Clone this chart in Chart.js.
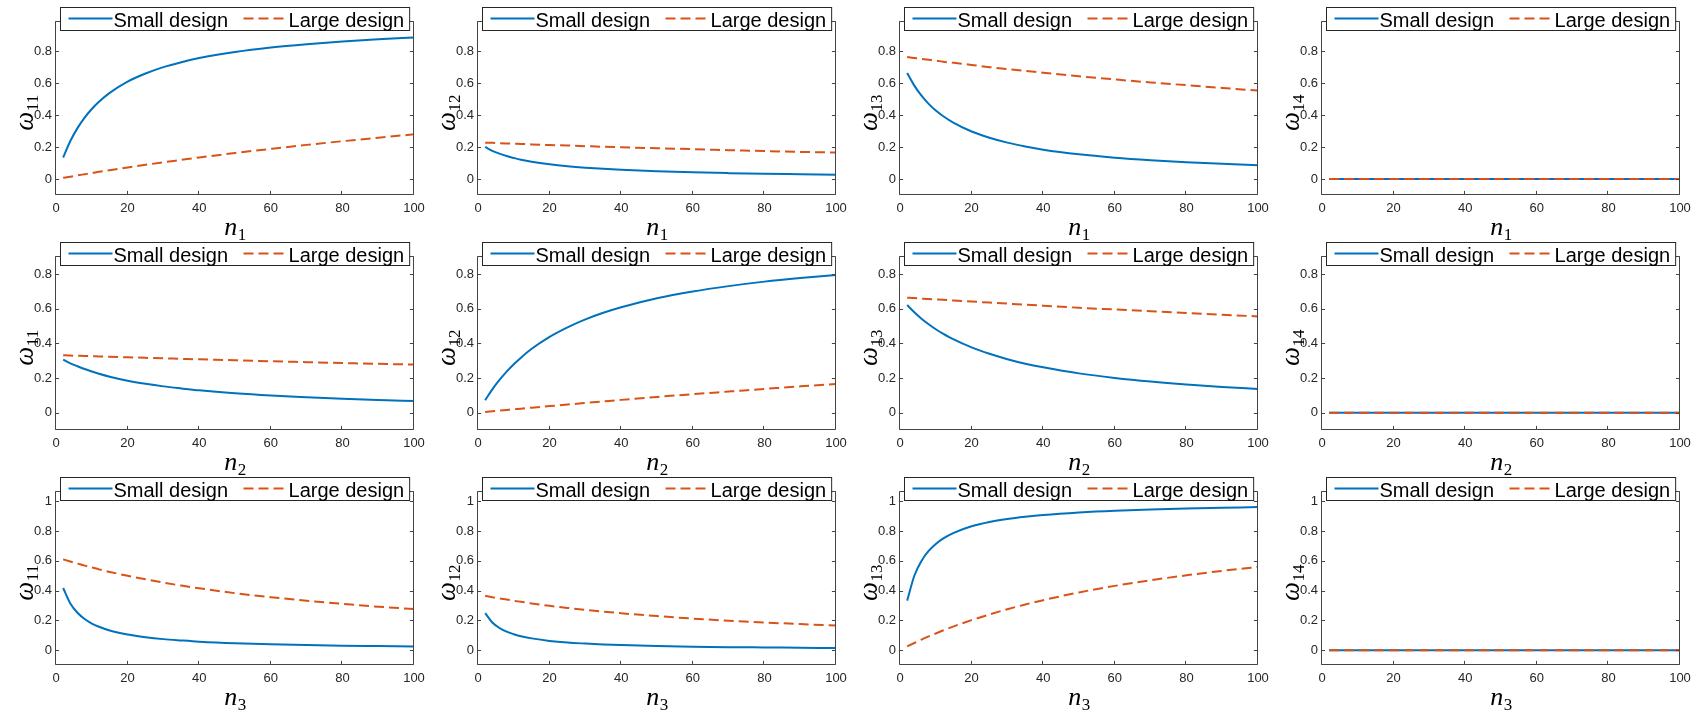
<!DOCTYPE html>
<html>
<head>
<meta charset="utf-8">
<script src="https://cdn.jsdelivr.net/npm/chart.js@4.4.1/dist/chart.umd.min.js"></script>
<style>
  body { margin: 0; background: #fff; overflow: hidden; }
  #grid { position: relative; width: 1704px; height: 715px; }
  #grid canvas { position: absolute; }
</style>
</head>
<body>
<div id="grid"></div>
<script>
// sample sizes along the x axis
const nValues = [2, 4, 6, 8, 10, 12, 15, 20, 25, 30, 35, 40, 50, 60, 70, 80, 90, 100];
const seriesNames = ['Small design', 'Large design'];
const xTickValues = [0, 20, 40, 60, 80, 100];
const yTickValues = [[0, 0.2, 0.4, 0.6, 0.8], [0, 0.2, 0.4, 0.6, 0.8], [0, 0.2, 0.4, 0.6, 0.8, 1]];
const rowYMax = [0.99, 0.905, 1.07];
const xTitleBase = 'n';
const xTitleSubs = ['1', '2', '3'];
const yTitleBase = 'ω';
const yTitleSubs = ['11', '12', '13', '14'];

// row 1: varying n1
const smallN1W11 = [0.135, 0.238, 0.319, 0.385, 0.439, 0.484, 0.540, 0.610, 0.661, 0.701, 0.732, 0.758, 0.796, 0.824, 0.845, 0.862, 0.875, 0.887];
const smallN1W12 = [0.201, 0.177, 0.159, 0.144, 0.132, 0.121, 0.108, 0.092, 0.080, 0.071, 0.064, 0.058, 0.049, 0.042, 0.037, 0.033, 0.030, 0.027];
const smallN1W13 = [0.664, 0.585, 0.522, 0.471, 0.429, 0.395, 0.352, 0.298, 0.259, 0.228, 0.204, 0.184, 0.155, 0.134, 0.118, 0.105, 0.095, 0.086];
const largeN1W11 = [0.008, 0.015, 0.023, 0.030, 0.037, 0.045, 0.055, 0.072, 0.089, 0.105, 0.120, 0.135, 0.163, 0.189, 0.214, 0.237, 0.259, 0.280];
const largeN1W12 = [0.228, 0.227, 0.225, 0.223, 0.221, 0.220, 0.217, 0.213, 0.210, 0.206, 0.202, 0.199, 0.193, 0.187, 0.181, 0.175, 0.170, 0.166];
const largeN1W13 = [0.764, 0.758, 0.752, 0.747, 0.742, 0.735, 0.728, 0.715, 0.701, 0.689, 0.678, 0.666, 0.644, 0.624, 0.605, 0.588, 0.571, 0.554];

// row 2: varying n2
const smallN2W11 = [0.306, 0.285, 0.268, 0.252, 0.238, 0.225, 0.208, 0.185, 0.167, 0.152, 0.140, 0.129, 0.112, 0.099, 0.089, 0.080, 0.073, 0.067];
const smallN2W12 = [0.072, 0.135, 0.189, 0.237, 0.280, 0.318, 0.369, 0.438, 0.493, 0.539, 0.577, 0.609, 0.661, 0.700, 0.731, 0.757, 0.778, 0.796];
const smallN2W13 = [0.622, 0.580, 0.543, 0.511, 0.482, 0.457, 0.423, 0.377, 0.340, 0.309, 0.283, 0.262, 0.227, 0.201, 0.180, 0.163, 0.149, 0.137];
const largeN2W11 = [0.332, 0.330, 0.329, 0.328, 0.326, 0.325, 0.323, 0.320, 0.317, 0.314, 0.311, 0.308, 0.303, 0.297, 0.292, 0.287, 0.282, 0.278];
const largeN2W12 = [0.004, 0.008, 0.012, 0.016, 0.020, 0.023, 0.029, 0.038, 0.047, 0.056, 0.065, 0.074, 0.091, 0.107, 0.122, 0.137, 0.152, 0.166];
const largeN2W13 = [0.664, 0.662, 0.659, 0.656, 0.654, 0.652, 0.648, 0.642, 0.636, 0.630, 0.624, 0.618, 0.606, 0.596, 0.586, 0.576, 0.566, 0.556];

// row 3: varying n3
const smallN3W11 = [0.418, 0.314, 0.251, 0.209, 0.179, 0.157, 0.132, 0.105, 0.087, 0.074, 0.065, 0.057, 0.046, 0.039, 0.034, 0.030, 0.027, 0.024];
const smallN3W12 = [0.249, 0.186, 0.149, 0.124, 0.107, 0.093, 0.079, 0.062, 0.051, 0.044, 0.038, 0.034, 0.028, 0.023, 0.020, 0.018, 0.016, 0.014];
const smallN3W13 = [0.333, 0.500, 0.600, 0.667, 0.714, 0.750, 0.789, 0.833, 0.862, 0.882, 0.897, 0.909, 0.926, 0.938, 0.946, 0.952, 0.957, 0.962];
const largeN3W11 = [0.610, 0.596, 0.582, 0.568, 0.556, 0.543, 0.526, 0.500, 0.476, 0.454, 0.434, 0.416, 0.383, 0.356, 0.332, 0.311, 0.292, 0.276];
const largeN3W12 = [0.365, 0.356, 0.347, 0.340, 0.332, 0.325, 0.314, 0.298, 0.284, 0.271, 0.259, 0.248, 0.229, 0.212, 0.198, 0.186, 0.175, 0.165];
const largeN3W13 = [0.025, 0.048, 0.071, 0.092, 0.112, 0.132, 0.160, 0.202, 0.240, 0.275, 0.307, 0.336, 0.388, 0.432, 0.470, 0.503, 0.533, 0.559];

// omega14 stays at zero for both designs
const zeroW14 = [0, 0, 0, 0, 0, 0, 0, 0, 0, 0, 0, 0, 0, 0, 0, 0, 0, 0];

const panelSeries = [
    [[smallN1W11, largeN1W11], [smallN1W12, largeN1W12], [smallN1W13, largeN1W13], [zeroW14, zeroW14]],
    [[smallN2W11, largeN2W11], [smallN2W12, largeN2W12], [smallN2W13, largeN2W13], [zeroW14, zeroW14]],
    [[smallN3W11, largeN3W11], [smallN3W12, largeN3W12], [smallN3W13, largeN3W13], [zeroW14, zeroW14]]
];

const BLUE = '#0072BD';
const ORANGE = '#D95319';
const AXIS = '#262626';
const FRAME = '#444444';
const SANS = '"Liberation Sans", Arial, sans-serif';
const SERIF = '"Liberation Serif", "Times New Roman", serif';
const CELL_W = 422, CELL_H = 235;
const CANVAS_W = 440, CANVAS_H = 255;

// box around the axes with inward ticks on all four sides
const matlabFrame = {
    id: 'matlabFrame',
    afterDraw(chart) {
        const { ctx, chartArea: a, scales } = chart;
        const L = Math.round(a.left) - 0.5, R = Math.round(a.right) - 0.5;
        const T = Math.round(a.top) + 0.5, B = Math.round(a.bottom) - 0.5;
        const tl = 3.6;
        ctx.save();
        ctx.strokeStyle = FRAME;
        ctx.lineWidth = 1;
        ctx.beginPath();
        ctx.rect(L, T, R - L, B - T);
        scales.x.ticks.forEach(t => {
            const px = Math.round(scales.x.getPixelForValue(t.value)) - 0.5;
            ctx.moveTo(px, B); ctx.lineTo(px, B - tl);
            ctx.moveTo(px, T); ctx.lineTo(px, T + tl);
        });
        scales.y.ticks.forEach(t => {
            const py = Math.round(scales.y.getPixelForValue(t.value)) + 0.5;
            ctx.moveTo(L, py); ctx.lineTo(L + tl, py);
            ctx.moveTo(R, py); ctx.lineTo(R - tl, py);
        });
        ctx.stroke();
        ctx.restore();
    }
};

// italic symbol followed by an upright, lowered subscript
function drawSubscripted(ctx, base, sub, cx, baseline, rotation, baseSize, subSize, drop) {
    ctx.save();
    ctx.translate(cx, baseline);
    ctx.rotate(rotation);
    ctx.fillStyle = '#000';
    ctx.textBaseline = 'alphabetic';
    ctx.font = 'italic ' + baseSize + 'px ' + SERIF;
    const bw = ctx.measureText(base).width;
    ctx.font = subSize + 'px ' + SERIF;
    const sw = ctx.measureText(sub).width;
    const x0 = -(bw + sw) / 2;
    ctx.font = 'italic ' + baseSize + 'px ' + SERIF;
    ctx.fillText(base, x0, 0);
    ctx.font = subSize + 'px ' + SERIF;
    ctx.fillText(sub, x0 + bw + 0.5, drop);
    ctx.restore();
}

const axisTitles = {
    id: 'axisTitles',
    afterDraw(chart, args, opts) {
        const { ctx, chartArea: a } = chart;
        drawSubscripted(ctx, opts.x[0], opts.x[1], (a.left + a.right) / 2, a.bottom + 40, 0, 26, 17, 5);
        drawSubscripted(ctx, opts.y[0], opts.y[1], 33, (a.top + a.bottom) / 2 + 5, -Math.PI / 2, 27, 17, 5);
    }
};

// boxed legend that sits across the top edge of the axes
const legendBox = {
    id: 'legendBox',
    afterDraw(chart) {
        const { ctx, chartArea: a } = chart;
        const sample = 44, padL = 8, padR = 5.5, gapText = 1, gapItem = 15.5, h = 23;
        ctx.save();
        ctx.font = '20px ' + SANS;
        const items = chart.data.datasets.map(ds => ({ ds, w: ctx.measureText(ds.label).width }));
        let width = padL + padR + gapItem * (items.length - 1);
        items.forEach(it => { width += sample + gapText + it.w; });
        const left = Math.round((a.left + a.right) / 2 - width / 2) + 0.5;
        const top = Math.round(a.top) - 14 + 0.5;
        ctx.fillStyle = '#fff';
        ctx.fillRect(left, top, width, h);
        ctx.strokeStyle = AXIS;
        ctx.lineWidth = 1;
        ctx.strokeRect(left, top, width, h);

        let x = left + padL;
        items.forEach(it => {
            ctx.beginPath();
            ctx.strokeStyle = it.ds.borderColor;
            ctx.lineWidth = it.ds.borderWidth;
            ctx.setLineDash(it.ds.borderDash || []);
            ctx.moveTo(x, top + 11);
            ctx.lineTo(x + sample, top + 11);
            ctx.stroke();
            ctx.setLineDash([]);
            ctx.fillStyle = '#000';
            ctx.textBaseline = 'alphabetic';
            ctx.fillText(it.ds.label, x + sample + gapText, top + 19.5);
            x += sample + gapText + it.w + gapItem;
        });
        ctx.restore();
    }
};

function createPanel(row, col) {
    const canvas = document.createElement('canvas');
    canvas.width = CANVAS_W;
    canvas.height = CANVAS_H;
    canvas.style.left = (col * CELL_W) + 'px';
    canvas.style.top = (row * CELL_H) + 'px';
    document.getElementById('grid').appendChild(canvas);

    const [smallVals, largeVals] = panelSeries[row][col];
    const toPoints = vals => nValues.map((n, i) => ({ x: n, y: vals[i] }));

    new Chart(canvas.getContext('2d'), {
        type: 'line',
        data: {
            datasets: [{
                label: seriesNames[0],
                data: toPoints(smallVals),
                borderColor: BLUE,
                borderWidth: 2,
                pointRadius: 0,
                cubicInterpolationMode: 'monotone',
                order: 1
            }, {
                label: seriesNames[1],
                data: toPoints(largeVals),
                borderColor: ORANGE,
                borderWidth: 2,
                borderDash: [10, 5],
                pointRadius: 0,
                cubicInterpolationMode: 'monotone',
                order: 0
            }]
        },
        options: {
            responsive: false,
            animation: false,
            devicePixelRatio: 1,
            layout: { padding: { top: 21, right: CANVAS_W - 414, bottom: 0, left: 0 } },
            plugins: {
                legend: { display: false },
                tooltip: { enabled: false },
                axisTitles: { x: [xTitleBase, xTitleSubs[row]], y: [yTitleBase, yTitleSubs[col]] }
            },
            scales: {
                x: {
                    type: 'linear',
                    min: 0,
                    max: 100,
                    grid: { display: false, drawTicks: false },
                    border: { display: false },
                    ticks: {
                        padding: 6,
                        color: AXIS,
                        font: { family: SANS, size: 13 },
                        maxRotation: 0
                    },
                    afterBuildTicks: s => { s.ticks = xTickValues.map(v => ({ value: v })); },
                    afterFit: s => {
                        s.height = CANVAS_H - 195;
                        s.paddingLeft = 0; s.paddingRight = 0;
                    },
                    title: { display: false }
                },
                y: {
                    type: 'linear',
                    min: -0.1,
                    max: rowYMax[row],
                    grid: { display: false, drawTicks: false },
                    border: { display: false },
                    ticks: {
                        padding: 4,
                        color: AXIS,
                        font: { family: SANS, size: 13 },
                        callback: v => String(Math.round(v * 10) / 10)
                    },
                    afterBuildTicks: s => { s.ticks = yTickValues[row].map(v => ({ value: v })); },
                    afterFit: s => {
                        s.width = 56;
                        s.paddingTop = 0; s.paddingBottom = 0;
                    },
                    title: { display: false }
                }
            }
        },
        plugins: [matlabFrame, legendBox, axisTitles]
    });
}

for (let r = 0; r < 3; r++) {
    for (let c = 0; c < 4; c++) {
        createPanel(r, c);
    }
}
</script>
</body>
</html>
